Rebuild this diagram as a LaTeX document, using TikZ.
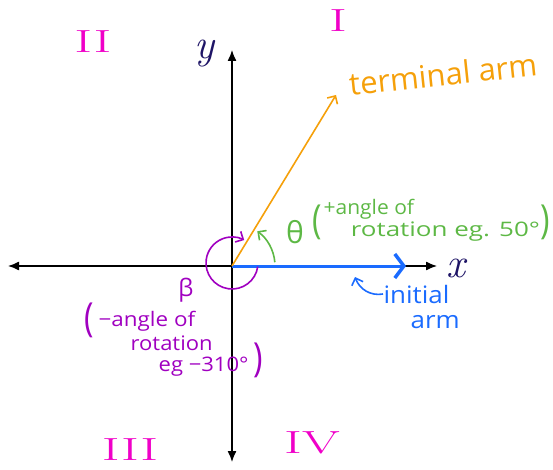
\documentclass[tikz,border=0pt]{standalone}
\usepackage{fontspec}
\setsansfont{Open Sans}
\usetikzlibrary{arrows.meta, positioning, calc}
\definecolor{cnavy}{HTML}{1E1466}
\definecolor{cblue}{HTML}{1A6BFF}
\definecolor{corange}{HTML}{F5A00A}
\definecolor{cgreen}{HTML}{5DB845}
\definecolor{cpurple}{HTML}{A000C0}
\definecolor{cmagenta}{HTML}{F000C8}
\tikzset{
  every picture/.style={line width=1.2pt},
  axis/.style={{Latex[length=11pt,width=9pt]}-{Latex[length=11pt,width=9pt]}, black, line width=1.3pt},
  arm/.style 2 args={draw=#1, -{Straight Barb[length=#2]}, line width=1.6pt},
  hand/.style={text=#1, font=\sffamily\fontsize{20}{20}\selectfont, inner sep=0pt},
  paren/.style={text=#1, font=\sffamily\fontsize{40}{40}\selectfont, inner sep=0pt, xscale=0.8},
  quad/.style={text=cmagenta, font=\rmfamily\fontsize{32}{32}\selectfont, inner sep=0pt, xscale=1.7},
  axislabel/.style={text=cnavy, font=\rmfamily\itshape\fontsize{42}{42}\selectfont, inner sep=0pt},
}
\begin{document}
\begin{tikzpicture}[x=1pt,y=1pt]
  \useasboundingbox (0,0) rectangle (553,-470);
  % axes
  \coordinate (O) at (232,-266);
  \coordinate (xleft) at (8,-266);
  \coordinate (xright) at (437,-266);
  \coordinate (ybottom) at (232,-462);
  \coordinate (ytop) at (232,-50);
  \draw[axis] (xleft) -- (xright);
  \draw[axis] (ybottom) -- (ytop);
  \node[axislabel] (ylabel) at (204,-54) {y};
  \node[axislabel] (xlabel) at (456,-268) {x};
  % arms
  \coordinate (initialend) at (406,-266);
  \coordinate (terminalend) at (336,-95);
  \draw[draw=cblue, line width=3pt, -{Straight Barb[length=9pt, width=24pt, line width=3.5pt]}] (O) -- (initialend);
  \draw[arm={corange}{6pt}] (O) -- (terminalend);
  \node[hand=corange, font=\sffamily\fontsize{31}{31}\selectfont, rotate=6] (terminal) at (443,-74) {terminal arm};
  % theta
  \draw[arm={cgreen}{6pt}] ([shift={(5:43)}]O) arc[start angle=5, end angle=54, radius=43];
  \node[hand=cgreen, font=\sffamily\fontsize{30}{30}\selectfont] (theta) at (295,-232) {θ};
  \node[paren=cgreen] (thetalpar) at (317,-222) {(};
  \node[hand=cgreen, anchor=west, xscale=1.05] (thetaline1) at (323,-209) {+angle of};
  \node[hand=cgreen, anchor=west, xscale=1.3] (thetaline2) at (350,-232) {rotation eg. 50°};
  \node[paren=cgreen] (thetarpar) at (545,-222) {)};
  % beta
  \draw[arm={cpurple}{6pt}] ([shift={(-8:26)}]232,-263) arc[start angle=-8, end angle=-298, radius=26];
  \node[hand=cpurple, font=\sffamily\fontsize{24}{24}\selectfont] (beta) at (186,-290) {β};
  \node[paren=cpurple] (betalpar) at (89,-320) {(};
  \node[hand=cpurple, anchor=west, xscale=1.12] (betaline1) at (98,-321) {−angle of};
  \node[hand=cpurple, anchor=west, xscale=1.1] (betaline2) at (130,-343) {rotation};
  \node[hand=cpurple, anchor=west, xscale=1.1] (betaline3) at (158,-367) {eg −310°};
  \node[paren=cpurple] (betarpar) at (258,-360) {)};
  % initial arm label
  \node[hand=cblue, font=\sffamily\fontsize{24}{24}\selectfont, anchor=west, xscale=1.08] (initial) at (383,-294) {initial};
  \node[hand=cblue, font=\sffamily\fontsize{24}{24}\selectfont, anchor=west, xscale=1.08] (initialarm) at (410,-322) {arm};
  \coordinate (initialtip) at (355,-277);
  \draw[draw=cblue, line width=1.6pt, -{Straight Barb[length=6pt]}] (initial.west) to[out=190, in=-70] (initialtip);
  % quadrants
  \node[quad] (q1) at (338,-21) {I};
  \node[quad] (q2) at (93,-42) {II};
  \node[quad] (q3) at (130,-450) {III};
  \node[quad] (q4) at (312,-443) {IV};
\end{tikzpicture}
\end{document}
